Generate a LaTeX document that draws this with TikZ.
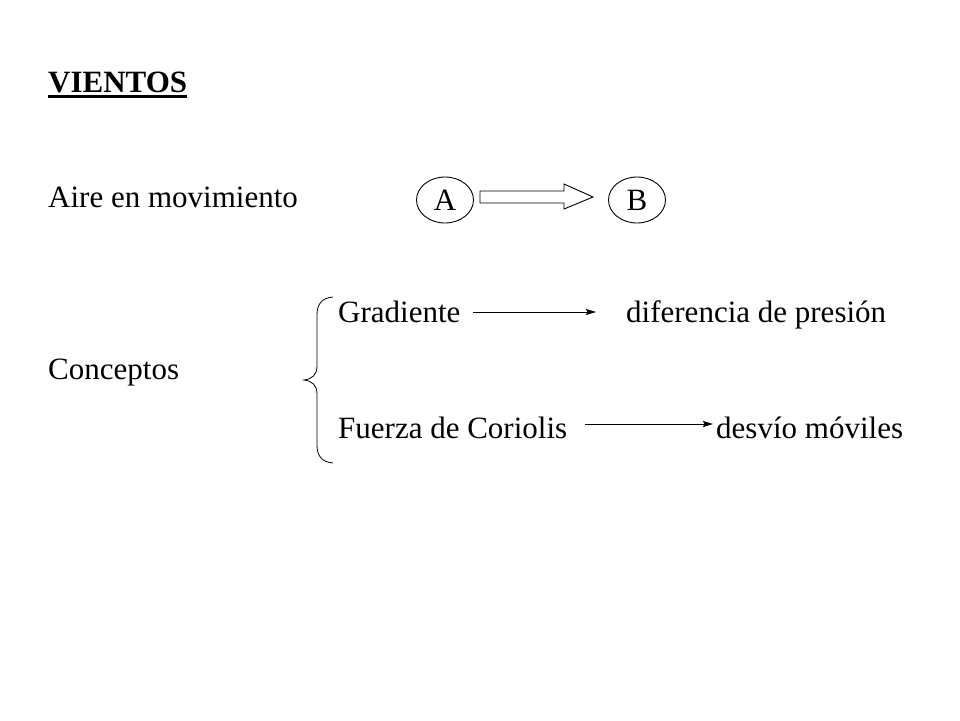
\documentclass[tikz,border=0pt]{standalone}
\usepackage{fontspec}
\setmainfont{Liberation Serif}
\usepackage{tikz}
\usetikzlibrary{arrows.meta,positioning,shapes.geometric}

\begin{document}
\begin{tikzpicture}[x=1pt, y=-1pt, >={Stealth[length=10pt,width=6pt,inset=1.5pt]}, node distance=192pt,
    word/.style={anchor=base west, inner sep=0pt, font=\fontsize{31}{37}\selectfont},
    letter/.style={ellipse, draw, line width=0.9pt, minimum width=57pt, minimum height=46pt, inner sep=0pt, font=\fontsize{31}{37}\selectfont}]
    \useasboundingbox (0,0) rectangle (960,720);

    % Title
    \node [word, font=\fontsize{31}{37}\selectfont\bfseries] (title) at (48,92) {VIENTOS};
    \draw [line width=2.5pt] ([yshift=-4.5pt]title.base west) -- ([yshift=-4.5pt]title.base east);

    % Aire en movimiento A -> B
    \node [word]   (aire)                  at (48,207)  {Aire en movimiento};
    \node [letter] (A)                     at (445,200) {A};
    \node [letter] (B)  [right of=A]                    {B};
    \coordinate (tail) at (480,197);
    \coordinate (tip)  at (593,197);
    \draw [line width=0.9pt] (tail) ++(0,-6) -- ++(84,0) -- ++(0,-7) -- (tip) -- ++(-29,12) -- ++(0,-6) -- ++(-84,0) -- cycle;

    % Conceptos
    \node [word] (conc)  at (48,379)  {Conceptos};
    \node [word] (grad)  at (338,322) {Gradiente};
    \node [word] (pres)  at (626,322) {diferencia de presión};
    \node [word] (cor)   at (338,438) {Fuerza de Coriolis};
    \node [word] (desv)  at (716,438) {desvío móviles};
    \draw [line width=0.8pt] (333,297) .. controls (321,298) and (317,305) .. (317,315) -- (317,366)
        .. controls (317,375) and (312,379) .. (304,380) .. controls (312,381) and (317,385) .. (317,394)
        -- (317,445) .. controls (317,455) and (321,462) .. (333,463);

    % Paths
    \coordinate (g1) at (473,312);
    \coordinate (g2) at (596,312);
    \coordinate (c1) at (585,424);
    \coordinate (c2) at (713,424);
    \path [->, line width=1pt] (g1) edge (g2);
    \path [->, line width=1pt] (c1) edge (c2);

\end{tikzpicture}
\end{document}
